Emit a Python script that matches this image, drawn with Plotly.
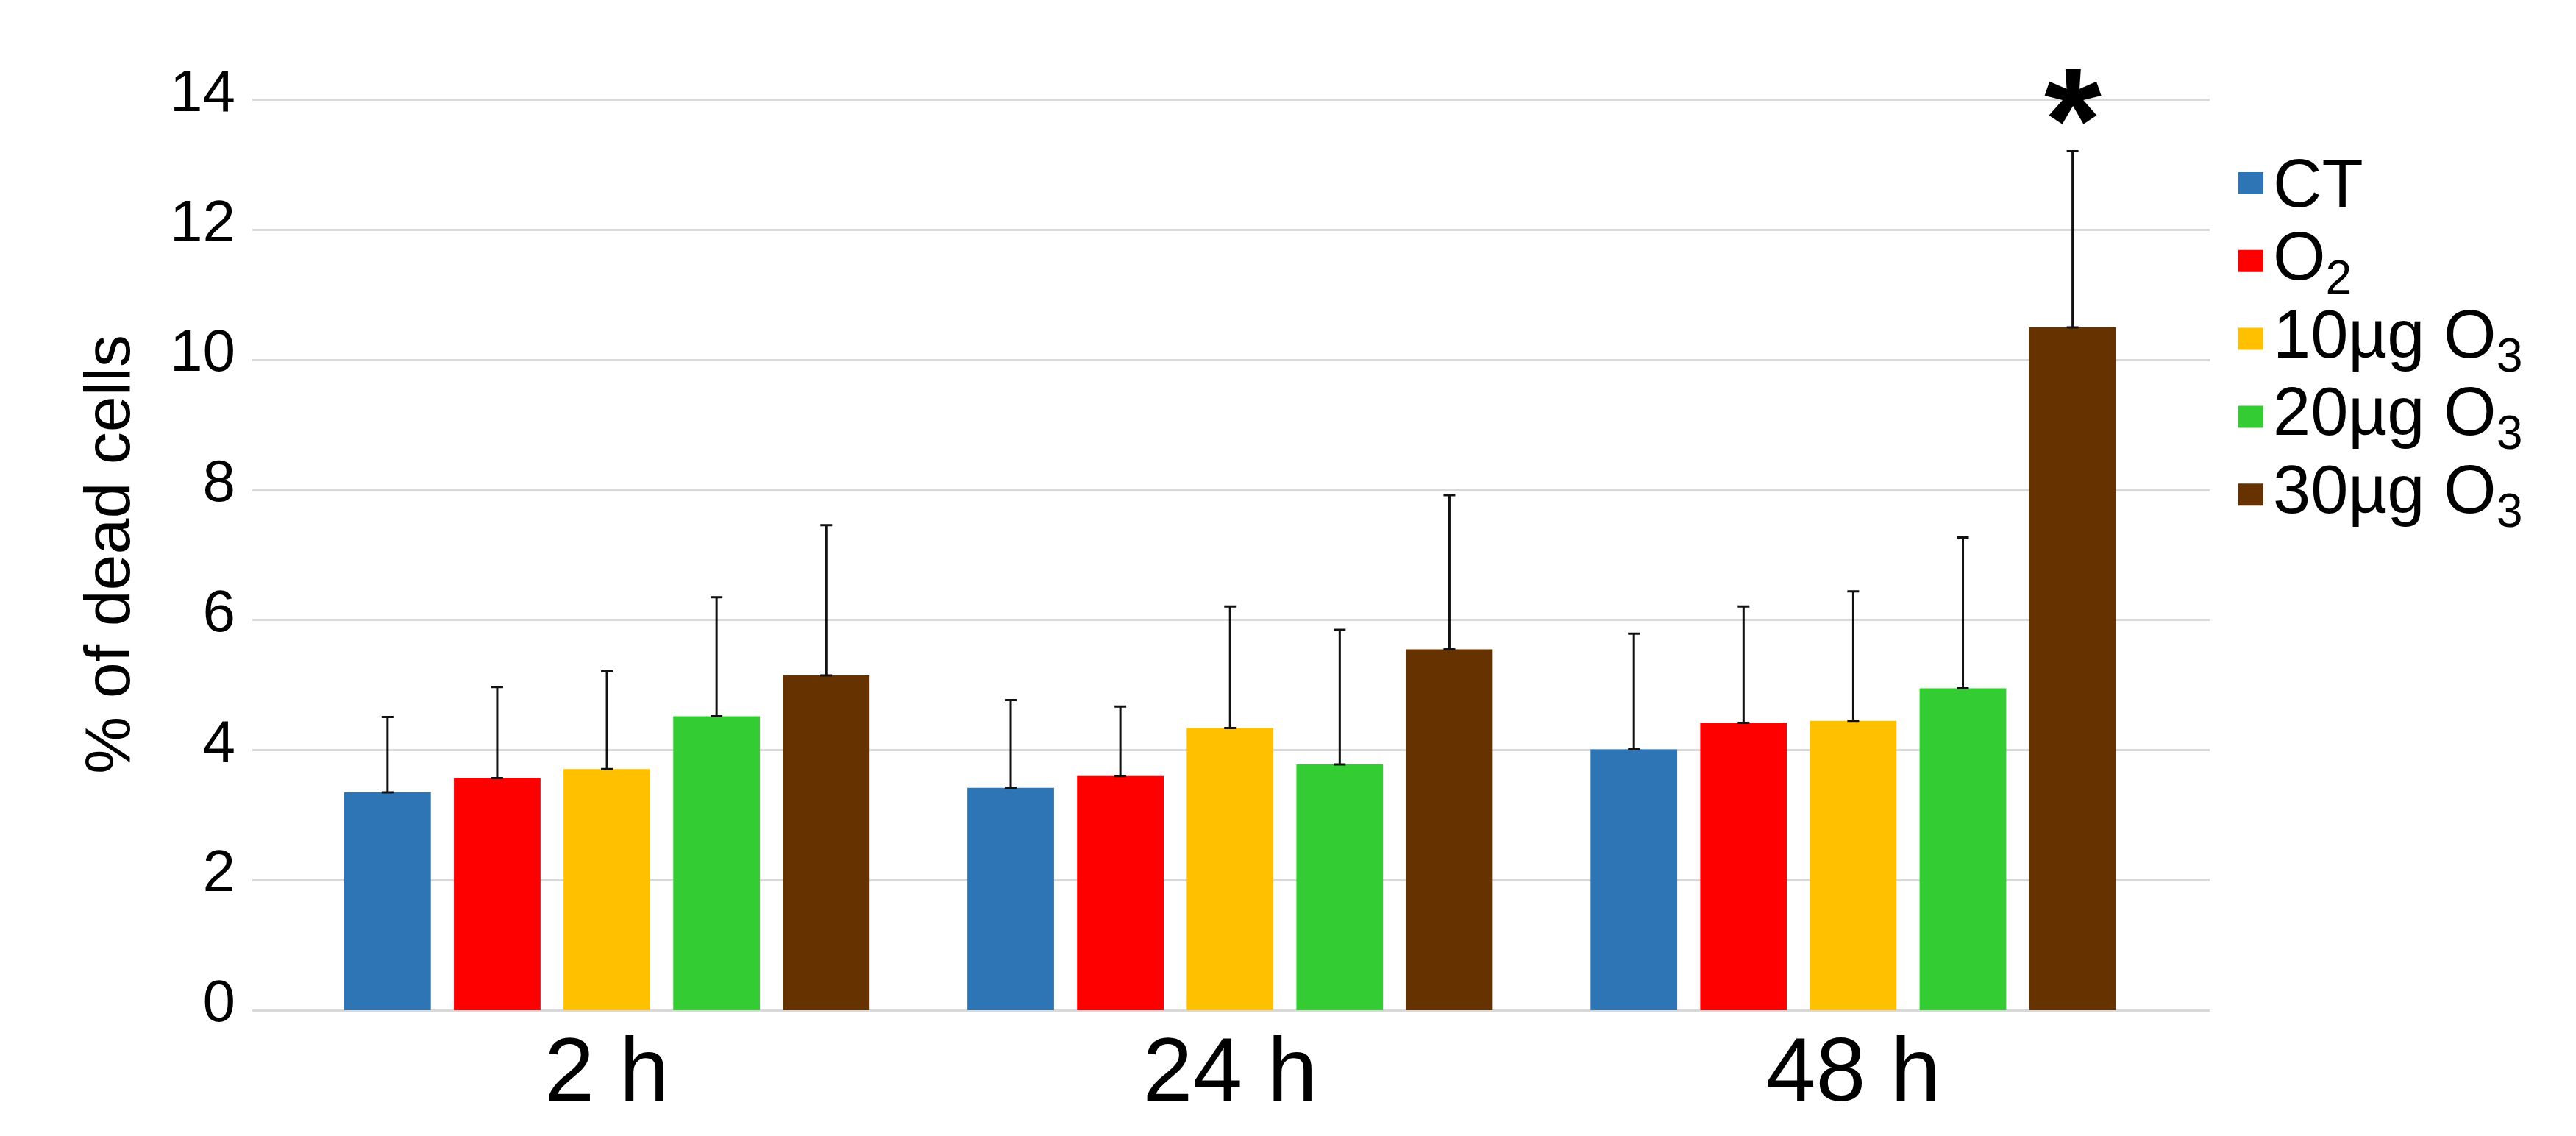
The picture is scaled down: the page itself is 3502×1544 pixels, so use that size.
import plotly.graph_objects as go

# ---- data ----
time_points = ["2 h", "24 h", "48 h"]
series_names = ["CT", "O<sub>2</sub>", "10µg O<sub>3</sub>", "20µg O<sub>3</sub>", "30µg O<sub>3</sub>"]
series_colors = ["#2E75B6", "#FF0000", "#FFC000", "#33CC33", "#663300"]

ct_values = [3.35, 3.42, 4.01]
o2_values = [3.57, 3.60, 4.42]
o3_10_values = [3.71, 4.34, 4.45]
o3_20_values = [4.52, 3.78, 4.95]
o3_30_values = [5.15, 5.55, 10.50]

ct_err = [1.16, 1.35, 1.78]
o2_err = [1.40, 1.07, 1.79]
o3_10_err = [1.50, 1.87, 1.99]
o3_20_err = [1.83, 2.07, 2.32]
o3_30_err = [2.31, 2.37, 2.71]

y_ticks = [0, 2, 4, 6, 8, 10, 12, 14]
significance_label = "*"
significant_series = 4      # 30µg O3
significant_time = 2        # 48 h

values = [ct_values, o2_values, o3_10_values, o3_20_values, o3_30_values]
errors = [ct_err, o2_err, o3_10_err, o3_20_err, o3_30_err]

# ---- layout constants ----
W, H = 3502, 1544
M_L, M_R, M_T, M_B = 335, 506, 126, 179
PLOT_W = W - M_L - M_R
PLOT_H = H - M_T - M_B
FONT = "Arial, 'Liberation Sans', Helvetica, sans-serif"
BARGAP = 0.12
BARGROUPGAP = 0.21

fig = go.Figure()
for name, color, vals, errs in zip(series_names, series_colors, values, errors):
    fig.add_trace(go.Bar(
        name=name,
        x=time_points,
        y=vals,
        showlegend=False,
        marker=dict(color=color, line=dict(width=0)),
        error_y=dict(type="data", array=errs, arrayminus=[0] * len(errs),
                     symmetric=False, color="#111111", thickness=3, width=8),
    ))

# significance marker above the 30µg O3 bar at 48 h
n_series = len(series_names)
slot = (1 - BARGAP) / n_series
x_sig = significant_time + (significant_series - (n_series - 1) / 2) * slot
y_sig = values[significant_series][significant_time] + errors[significant_series][significant_time]
fig.add_annotation(x=x_sig, y=y_sig, xref="x", yref="y", text="<b>" + significance_label + "</b>",
                   showarrow=False, yanchor="bottom", yshift=-70,
                   font=dict(family=FONT, size=200, color="black"))

# legend (large square swatches, tight rows, as in the original)
LEG_SWATCH_X0, LEG_SWATCH_X1 = 3035, 3069
LEG_TEXT_X = 3080
LEG_FIRST_Y, LEG_ROW = 241, 105.8
LEG_HALF = 15


def px_x(px):
    return (px - M_L) / PLOT_W


def px_y(py):
    return (H - M_B - py) / PLOT_H


for i, (name, color) in enumerate(zip(series_names, series_colors)):
    cy = LEG_FIRST_Y + i * LEG_ROW
    fig.add_shape(type="rect", xref="paper", yref="paper",
                  x0=px_x(LEG_SWATCH_X0), x1=px_x(LEG_SWATCH_X1),
                  y0=px_y(cy + LEG_HALF), y1=px_y(cy - LEG_HALF),
                  fillcolor=color, line=dict(width=0))
    fig.add_annotation(xref="paper", yref="paper", x=px_x(LEG_TEXT_X), y=px_y(cy),
                       xanchor="left", yanchor="middle", showarrow=False, text=name,
                       font=dict(family=FONT, size=92, color="black"))

fig.update_layout(
    width=W, height=H,
    margin=dict(l=M_L, r=M_R, t=M_T, b=M_B),
    paper_bgcolor="white", plot_bgcolor="white",
    barmode="group", bargap=BARGAP, bargroupgap=BARGROUPGAP,
    font=dict(family=FONT, color="black"),
    showlegend=False,
)
fig.update_xaxes(
    range=[-0.569, 2.572],
    showgrid=False, showline=False, zeroline=False, ticks="",
    tickfont=dict(family=FONT, size=122, color="black"),
)
fig.update_yaxes(
    range=[0, 14.02], tickvals=y_ticks, ticktext=[str(v) for v in y_ticks],
    showgrid=True, gridcolor="#D9D9D9", gridwidth=3,
    zeroline=True, zerolinecolor="#D9D9D9", zerolinewidth=3,
    showline=False, ticks="", ticklabelstandoff=22, ticklabelshift=-13,
    tickfont=dict(family=FONT, size=80, color="black"),
    title=dict(text="% of dead cells", standoff=25,
               font=dict(family=FONT, size=88, color="black")),
)

fig.write_html("out.html")
